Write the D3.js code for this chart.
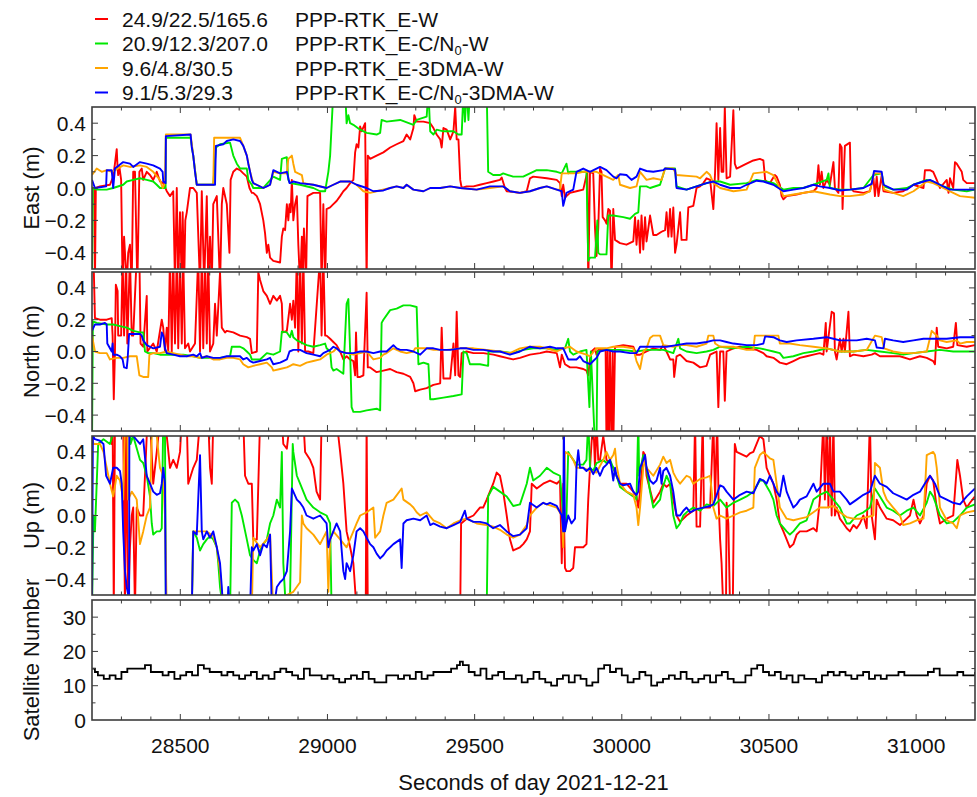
<!DOCTYPE html>
<html><head><meta charset="utf-8">
<script src="https://cdn.jsdelivr.net/npm/d3@7"></script>
<style>
html,body{margin:0;padding:0;background:#fff;}
svg{display:block;font-family:"Liberation Sans",Arial,Helvetica,sans-serif;}
</style></head>
<body><svg id="chart" width="977" height="797"></svg>
<script>
// ---- time axis ----
const timeDomain = [28200, 31200];
const xTicks = [28500, 29000, 29500, 30000, 30500, 31000];
const enuTicks = [-0.4, -0.2, 0, 0.2, 0.4];
const satTicks = [0, 10, 20, 30];

// ---- legend ----
const seriesNames = ["PPP-RTK_E-W", "PPP-RTK_E-C/N0-W", "PPP-RTK_E-3DMA-W", "PPP-RTK_E-C/N0-3DMA-W"];
const seriesStats = ["24.9/22.5/165.6", "20.9/12.3/207.0", "9.6/4.8/30.5", "9.1/5.3/29.3"];
const seriesColors = ["#ff0000", "#00e800", "#ffa500", "#0000ff"];

// ---- East error (m): [seconds of day, value] ----
const eastRed = [[28200,0.0],[28208,0.0],[28210,-0.6],[28213,0.0],[28227,0.01],[28261,0.02],[28272,0.07],[28278,0.15],[28284,0.24],[28287,0.12],[28289,0.08],[28293,0.13],[28299,0.05],[28304,-0.6],[28309,-0.3],[28318,-0.6],[28323,-0.4],[28329,-0.35],[28335,-0.6],[28340,0.1],[28346,0.1],[28354,-0.6],[28361,0.1],[28369,0.12],[28374,0.05],[28386,0.1],[28397,0.08],[28408,0.05],[28420,0.1],[28431,0.04],[28442,0.03],[28454,-0.02],[28465,-0.05],[28476,-0.02],[28482,-0.6],[28488,0.0],[28493,-0.6],[28499,-0.15],[28505,-0.6],[28508,-0.15],[28513,-0.6],[28517,-0.2],[28522,-0.15],[28533,0.0],[28544,0.0],[28556,-0.03],[28567,-0.6],[28573,-0.02],[28581,-0.6],[28590,-0.05],[28595,-0.6],[28601,-0.3],[28607,-0.6],[28612,-0.1],[28624,-0.05],[28635,-0.6],[28641,-0.1],[28646,0.0],[28658,-0.1],[28667,-0.4],[28671,0.05],[28680,0.1],[28692,0.12],[28703,0.11],[28714,0.09],[28726,0.07],[28735,0.0],[28743,-0.03],[28748,-0.03],[28760,-0.05],[28771,-0.1],[28782,-0.2],[28788,-0.28],[28794,-0.4],[28799,-0.35],[28805,-0.43],[28816,-0.45],[28839,-0.46],[28845,-0.3],[28850,-0.25],[28856,-0.26],[28862,-0.1],[28867,-0.2],[28871,-0.1],[28875,-0.15],[28879,0.05],[28884,-0.2],[28890,-0.1],[28896,-0.05],[28901,-0.35],[28907,-0.6],[28913,-0.3],[28916,-0.6],[28920,-0.25],[28924,-0.4],[28927,-0.6],[28932,-0.05],[28952,-0.03],[28975,-0.03],[28980,-0.6],[28986,-0.1],[28992,-0.6],[28997,-0.13],[29009,-0.12],[29020,-0.1],[29031,-0.08],[29043,-0.05],[29054,-0.02],[29065,0.0],[29077,0.03],[29088,0.05],[29094,0.22],[29099,0.27],[29105,0.25],[29111,0.38],[29116,0.35],[29128,0.4],[29133,-0.6],[29137,0.2],[29145,0.18],[29167,0.2],[29190,0.22],[29213,0.25],[29235,0.27],[29258,0.29],[29269,0.33],[29281,0.3],[29292,0.37],[29295,0.45],[29303,0.41],[29326,0.41],[29349,0.4],[29360,0.37],[29371,0.33],[29383,0.3],[29388,0.25],[29394,0.37],[29405,0.36],[29417,0.3],[29428,0.35],[29434,0.5],[29439,0.3],[29445,0.3],[29451,0.05],[29456,0.0],[29473,0.01],[29496,0.01],[29518,0.02],[29541,0.03],[29564,0.04],[29586,0.05],[29592,0.065],[29603,0.0],[29609,-0.02],[29654,-0.03],[29677,-0.02],[29688,0.06],[29699,0.07],[29745,0.06],[29779,0.05],[29790,0.03],[29796,-0.05],[29801,0.02],[29807,-0.06],[29812,-0.05],[29824,-0.03],[29846,-0.02],[29869,-0.01],[29883,0.1],[29886,-0.6],[29892,0.1],[29903,0.09],[29909,-0.25],[29914,-0.42],[29920,-0.25],[29926,0.12],[29931,0.1],[29935,-0.18],[29943,-0.2],[29948,-0.22],[29954,-0.13],[29960,-0.14],[29965,-0.6],[29971,-0.13],[29977,-0.32],[29994,-0.34],[30016,-0.35],[30039,-0.33],[30045,-0.18],[30050,-0.35],[30056,-0.2],[30062,-0.4],[30067,-0.17],[30073,-0.38],[30079,-0.18],[30084,-0.33],[30096,-0.17],[30107,-0.29],[30118,-0.29],[30135,-0.27],[30147,-0.26],[30152,-0.15],[30158,-0.3],[30164,-0.13],[30169,-0.3],[30175,-0.12],[30181,-0.4],[30186,-0.35],[30198,-0.15],[30203,-0.32],[30220,-0.32],[30226,-0.12],[30243,-0.11],[30254,0.0],[30266,0.01],[30277,0.03],[30288,0.06],[30300,0.05],[30311,-0.13],[30317,0.1],[30322,0.4],[30328,0.05],[30334,0.37],[30339,0.1],[30345,0.1],[30350,0.5],[30356,0.06],[30368,0.07],[30379,0.48],[30384,0.15],[30390,0.12],[30402,0.13],[30424,0.15],[30447,0.17],[30469,0.18],[30481,0.17],[30487,0.05],[30492,0.04],[30503,0.03],[30520,0.08],[30526,0.07],[30537,0.02],[30543,-0.05],[30549,-0.07],[30560,-0.05],[30594,-0.04],[30617,-0.03],[30651,-0.02],[30662,0.0],[30668,0.14],[30673,0.02],[30679,0.1],[30685,0.0],[30696,0.05],[30707,0.02],[30719,0.16],[30724,0.0],[30736,-0.03],[30741,0.27],[30747,0.25],[30750,-0.13],[30758,0.26],[30775,0.28],[30778,0.0],[30787,-0.02],[30821,-0.03],[30843,-0.02],[30849,0.03],[30855,0.06],[30860,-0.05],[30866,0.07],[30872,-0.05],[30883,0.08],[30889,-0.02],[30922,-0.03],[30956,-0.02],[30991,0.02],[31025,0.0],[31030,0.11],[31047,0.11],[31058,0.1],[31070,0.05],[31081,0.0],[31104,0.05],[31110,-0.03],[31115,0.06],[31126,0.0],[31132,0.16],[31138,0.15],[31155,0.1],[31160,0.05],[31172,0.03],[31200,0.03]];
const eastGreen = [[28200,-0.6],[28203,0.0],[28216,-0.01],[28250,-0.01],[28272,0.0],[28306,0.02],[28318,0.04],[28340,0.05],[28363,0.06],[28386,0.05],[28408,0.04],[28420,0.02],[28431,0.0],[28450,0.0],[28451,0.31],[28535,0.31],[28544,0.2],[28556,0.02],[28612,0.02],[28621,0.25],[28635,0.27],[28669,0.28],[28680,0.2],[28692,0.15],[28703,0.12],[28726,0.12],[28731,0.05],[28743,0.02],[28748,0.0],[28782,0.0],[28816,0.07],[28839,0.05],[28845,0.18],[28862,0.19],[28867,0.05],[28873,0.03],[28907,0.02],[28952,0.0],[28975,-0.02],[28992,-0.02],[29003,0.1],[29009,0.2],[29020,0.6],[29060,0.6],[29065,0.4],[29071,0.45],[29077,0.4],[29088,0.39],[29111,0.36],[29133,0.34],[29167,0.33],[29179,0.34],[29184,0.42],[29201,0.41],[29247,0.42],[29292,0.39],[29303,0.42],[29337,0.44],[29343,0.6],[29349,0.35],[29360,0.33],[29371,0.36],[29394,0.35],[29428,0.35],[29445,0.33],[29456,0.33],[29462,0.6],[29467,0.41],[29473,0.6],[29479,0.42],[29484,0.6],[29541,0.6],[29546,0.1],[29563,0.08],[29586,0.08],[29597,0.09],[29631,0.07],[29665,0.07],[29688,0.09],[29711,0.11],[29745,0.11],[29779,0.1],[29796,0.09],[29812,0.15],[29818,0.09],[29824,0.1],[29846,0.1],[29880,0.1],[29886,-0.45],[29892,-0.43],[29909,-0.43],[29917,-0.2],[29920,-0.4],[29926,-0.41],[29948,-0.41],[29954,-0.17],[29971,-0.17],[30005,-0.18],[30028,-0.19],[30045,-0.16],[30056,-0.15],[30062,0.01],[30084,0.01],[30096,0.0],[30130,0.02],[30147,0.12],[30181,0.12],[30186,0.01],[30220,-0.01],[30254,0.01],[30288,0.03],[30311,0.04],[30334,0.04],[30368,0.02],[30424,0.03],[30458,0.05],[30492,0.04],[30515,0.03],[30549,-0.01],[30583,0.0],[30617,0.0],[30651,0.02],[30696,0.05],[30702,0.09],[30707,0.0],[30741,-0.01],[30775,-0.01],[30821,0.0],[30855,0.08],[30883,0.09],[30891,0.01],[30922,-0.01],[30968,0.0],[30991,0.02],[31036,0.05],[31058,0.04],[31092,0.01],[31126,-0.01],[31172,-0.02],[31200,-0.01]];
const eastOrange = [[28200,0.08],[28216,0.12],[28233,0.1],[28250,0.11],[28267,0.1],[28278,0.11],[28306,0.14],[28329,0.13],[28363,0.14],[28386,0.13],[28408,0.1],[28431,0.05],[28440,0.0],[28448,0.03],[28451,0.33],[28535,0.33],[28544,0.2],[28556,0.02],[28612,0.02],[28615,0.31],[28703,0.31],[28714,0.26],[28726,0.2],[28737,0.1],[28748,0.03],[28782,0.0],[28805,0.02],[28816,0.1],[28839,0.09],[28862,0.09],[28867,0.18],[28879,0.2],[28884,0.15],[28890,0.1],[28913,0.08],[28918,0.03],[28952,0.02],[28997,0.0],[29020,0.02],[29043,0.04],[29077,0.04],[29099,0.02],[29122,-0.02],[29145,-0.03],[29167,-0.02],[29213,0.0],[29235,0.01],[29258,0.0],[29269,0.02],[29292,-0.01],[29326,-0.02],[29349,0.0],[29383,0.0],[29417,0.01],[29451,0.0],[29507,-0.01],[29552,0.0],[29597,0.01],[29620,-0.02],[29654,-0.03],[29688,-0.02],[29722,0.0],[29745,0.01],[29779,-0.01],[29790,-0.01],[29796,0.09],[29846,0.09],[29869,0.1],[29914,0.1],[29971,0.05],[29988,0.08],[29994,0.02],[30028,0.0],[30050,0.01],[30062,0.1],[30084,0.05],[30107,0.06],[30135,0.05],[30147,0.12],[30175,0.12],[30186,0.08],[30254,0.07],[30266,0.06],[30288,0.1],[30300,0.08],[30311,0.03],[30334,0.0],[30379,-0.02],[30424,-0.01],[30447,0.09],[30492,0.1],[30515,0.08],[30537,0.0],[30549,-0.05],[30583,-0.04],[30651,-0.02],[30707,-0.04],[30741,-0.05],[30775,-0.05],[30821,-0.04],[30843,-0.02],[30857,0.09],[30883,0.09],[30891,-0.01],[30922,-0.03],[30956,-0.05],[30991,-0.02],[31036,0.04],[31058,0.03],[31092,0.0],[31126,-0.03],[31149,-0.05],[31200,-0.06]];
const eastBlue = [[28200,0.05],[28210,0.0],[28248,0.01],[28250,0.11],[28267,0.11],[28272,0.0],[28278,0.12],[28306,0.16],[28329,0.15],[28340,0.13],[28363,0.16],[28386,0.15],[28408,0.14],[28431,0.12],[28440,0.1],[28442,0.04],[28450,0.03],[28451,0.32],[28535,0.33],[28539,0.25],[28544,0.2],[28550,0.1],[28556,0.02],[28618,0.02],[28621,0.26],[28646,0.27],[28658,0.29],[28680,0.3],[28703,0.29],[28714,0.26],[28726,0.2],[28731,0.15],[28737,0.1],[28743,0.05],[28748,0.03],[28782,0.0],[28794,0.01],[28805,0.02],[28816,0.11],[28839,0.09],[28862,0.1],[28871,0.03],[28884,0.04],[28907,0.03],[28952,0.02],[28997,0.0],[29020,0.02],[29043,0.04],[29077,0.04],[29099,0.02],[29133,0.0],[29156,-0.02],[29190,-0.015],[29213,0.0],[29235,0.01],[29258,0.0],[29269,0.02],[29292,-0.01],[29326,-0.02],[29349,0.0],[29383,0.0],[29417,0.01],[29451,0.0],[29507,-0.01],[29552,0.01],[29597,0.01],[29620,-0.02],[29654,-0.03],[29688,-0.02],[29722,0.0],[29745,0.01],[29779,-0.01],[29796,-0.02],[29801,-0.11],[29812,-0.03],[29835,-0.01],[29846,0.1],[29869,0.12],[29892,0.1],[29926,0.13],[29948,0.11],[29971,0.07],[29982,0.06],[29994,0.085],[30016,0.08],[30033,0.05],[30050,0.07],[30062,0.12],[30084,0.105],[30107,0.1],[30141,0.11],[30147,0.12],[30181,0.115],[30186,0.0],[30220,-0.01],[30254,0.01],[30288,0.03],[30311,0.04],[30334,0.02],[30368,0.0],[30402,0.0],[30424,0.02],[30458,0.045],[30481,0.04],[30515,0.02],[30549,-0.02],[30583,-0.01],[30617,0.0],[30651,0.02],[30673,0.01],[30707,0.0],[30741,-0.015],[30775,-0.01],[30821,0.0],[30849,0.025],[30857,0.105],[30883,0.1],[30889,0.02],[30923,-0.01],[30968,-0.01],[30991,0.02],[31025,0.04],[31047,0.05],[31081,0.02],[31115,-0.01],[31149,-0.01],[31200,-0.01]];

// ---- North error (m) ----
const northRed = [[28200,0.6],[28205,0.6],[28210,0.21],[28227,0.2],[28250,0.2],[28267,0.21],[28270,0.1],[28274,-0.3],[28278,0.0],[28281,0.42],[28287,0.38],[28289,0.1],[28299,0.1],[28304,0.6],[28309,0.1],[28316,0.6],[28320,0.05],[28329,0.6],[28335,0.1],[28340,0.1],[28352,0.6],[28361,0.6],[28365,0.05],[28374,0.03],[28386,0.35],[28388,0.0],[28408,0.05],[28420,0.0],[28437,0.2],[28442,0.15],[28448,0.0],[28454,0.15],[28459,0.0],[28465,0.6],[28471,0.0],[28476,0.6],[28482,0.05],[28488,0.6],[28493,0.02],[28499,0.6],[28505,0.05],[28510,0.6],[28516,0.02],[28527,0.05],[28533,0.0],[28550,0.05],[28561,0.6],[28567,0.0],[28573,0.6],[28578,0.02],[28584,0.6],[28590,0.05],[28595,0.6],[28601,0.0],[28612,0.05],[28618,0.3],[28624,0.1],[28635,0.5],[28641,0.15],[28652,0.12],[28658,0.13],[28680,0.12],[28703,0.1],[28726,0.09],[28737,0.08],[28743,-0.01],[28760,0.0],[28765,0.5],[28771,0.45],[28782,0.38],[28794,0.35],[28805,0.3],[28816,0.35],[28828,0.32],[28839,0.35],[28845,0.3],[28848,0.12],[28862,0.13],[28873,0.3],[28879,0.2],[28884,0.32],[28890,0.15],[28896,0.6],[28901,0.0],[28907,0.6],[28913,0.05],[28918,0.6],[28924,0.0],[28935,0.0],[28952,-0.01],[28975,0.6],[28980,0.1],[28986,0.6],[28992,0.1],[28997,0.1],[29009,0.08],[29020,0.06],[29031,0.04],[29043,0.0],[29054,-0.05],[29065,-0.03],[29077,-0.05],[29088,-0.06],[29094,-0.15],[29097,0.12],[29102,-0.16],[29111,-0.16],[29122,-0.15],[29133,0.37],[29137,-0.1],[29145,-0.1],[29167,-0.13],[29190,-0.12],[29213,-0.11],[29235,-0.13],[29258,-0.14],[29281,-0.16],[29292,-0.2],[29298,-0.25],[29315,-0.24],[29337,-0.23],[29360,-0.21],[29383,-0.2],[29388,0.15],[29394,-0.17],[29417,-0.17],[29428,0.05],[29434,-0.15],[29439,0.25],[29445,-0.15],[29451,-0.16],[29456,-0.01],[29473,0.0],[29496,-0.01],[29530,-0.01],[29564,-0.02],[29586,-0.03],[29609,-0.04],[29631,-0.05],[29654,-0.04],[29688,-0.02],[29722,-0.01],[29745,0.0],[29779,-0.01],[29790,-0.1],[29796,-0.02],[29807,-0.08],[29824,-0.1],[29846,-0.1],[29869,-0.11],[29880,-0.12],[29886,-0.15],[29892,-0.05],[29897,0.0],[29909,0.02],[29914,-0.02],[29920,0.01],[29945,0.01],[29948,-0.6],[29952,0.0],[29956,-0.6],[29960,0.0],[29965,-0.6],[29969,0.0],[29971,-0.6],[29977,0.03],[30005,0.04],[30039,0.03],[30050,-0.02],[30062,-0.02],[30084,0.0],[30107,0.02],[30130,0.01],[30141,0.04],[30152,0.0],[30164,-0.05],[30175,-0.05],[30178,-0.16],[30186,-0.03],[30198,-0.02],[30220,-0.06],[30243,-0.07],[30266,-0.1],[30288,-0.09],[30300,-0.02],[30311,-0.01],[30322,0.0],[30328,-0.35],[30334,0.0],[30345,0.0],[30350,-0.31],[30356,0.0],[30379,0.02],[30402,0.03],[30424,0.02],[30458,0.01],[30481,-0.01],[30492,-0.03],[30515,-0.04],[30537,-0.07],[30560,-0.08],[30583,-0.06],[30605,-0.04],[30628,-0.03],[30651,-0.02],[30673,-0.01],[30685,-0.02],[30693,0.18],[30696,0.0],[30713,0.25],[30721,0.24],[30724,0.0],[30730,-0.05],[30741,0.08],[30747,0.0],[30753,0.08],[30758,0.0],[30770,0.25],[30775,-0.03],[30787,-0.02],[30821,-0.03],[30849,-0.02],[30860,-0.01],[30877,-0.03],[30911,-0.03],[30945,-0.03],[30979,-0.05],[31013,-0.03],[31036,-0.04],[31058,-0.06],[31064,-0.08],[31070,0.15],[31075,0.03],[31104,0.02],[31126,0.03],[31135,0.18],[31140,0.04],[31172,0.03],[31200,0.04]];
const northGreen = [[28200,-0.6],[28203,0.19],[28216,0.18],[28250,0.17],[28272,0.17],[28295,0.16],[28318,0.15],[28340,0.13],[28363,0.12],[28374,0.12],[28380,0.0],[28391,-0.01],[28408,-0.01],[28431,-0.02],[28476,-0.02],[28510,-0.02],[28544,-0.03],[28567,-0.04],[28612,-0.04],[28635,-0.04],[28669,-0.03],[28675,0.03],[28703,0.03],[28714,0.02],[28726,0.0],[28737,-0.02],[28743,-0.05],[28771,-0.05],[28794,-0.01],[28816,-0.02],[28839,0.0],[28845,0.125],[28862,0.12],[28873,0.09],[28879,0.13],[28884,0.09],[28896,0.07],[28907,0.06],[28929,0.04],[28952,0.03],[28975,0.04],[28992,0.05],[28997,0.02],[29009,0.0],[29014,-0.1],[29020,-0.12],[29031,-0.11],[29054,-0.14],[29065,0.3],[29071,0.33],[29077,0.0],[29082,-0.35],[29088,-0.38],[29111,-0.38],[29133,-0.37],[29167,-0.36],[29179,-0.37],[29184,0.18],[29190,0.2],[29213,0.26],[29235,0.27],[29258,0.29],[29281,0.29],[29303,0.28],[29309,-0.08],[29326,-0.07],[29343,-0.08],[29349,-0.3],[29360,-0.3],[29394,-0.29],[29428,-0.28],[29456,-0.27],[29462,0.0],[29473,-0.01],[29484,-0.08],[29518,-0.08],[29546,-0.09],[29547,0.0],[29586,0.0],[29631,-0.01],[29665,0.01],[29699,0.02],[29745,0.02],[29779,0.01],[29807,0.02],[29818,0.08],[29824,0.0],[29835,-0.02],[29858,0.0],[29880,0.01],[29890,-0.35],[29895,0.0],[29909,-0.6],[29914,-0.6],[29917,0.0],[29948,0.01],[29994,0.01],[30050,0.0],[30084,0.01],[30141,0.01],[30175,-0.01],[30192,0.08],[30198,0.02],[30220,0.0],[30254,-0.01],[30288,0.0],[30311,0.01],[30334,0.03],[30379,0.02],[30424,0.03],[30469,0.02],[30492,0.01],[30515,0.0],[30537,-0.01],[30549,-0.04],[30583,-0.03],[30617,-0.01],[30651,0.0],[30696,0.02],[30741,0.0],[30787,0.0],[30832,0.01],[30877,0.0],[30922,-0.01],[30956,-0.02],[30991,-0.01],[31036,0.0],[31081,0.01],[31126,0.0],[31200,0.0]];
const northOrange = [[28200,0.1],[28210,0.0],[28227,-0.01],[28250,-0.01],[28261,-0.05],[28284,-0.04],[28306,-0.04],[28329,-0.03],[28352,-0.03],[28361,-0.15],[28374,-0.16],[28391,-0.16],[28395,-0.02],[28408,-0.01],[28431,-0.01],[28454,0.0],[28476,-0.01],[28499,-0.02],[28522,-0.03],[28544,-0.03],[28567,-0.04],[28590,-0.03],[28612,-0.05],[28635,-0.05],[28658,-0.04],[28680,-0.04],[28703,-0.05],[28714,-0.08],[28731,-0.1],[28748,-0.09],[28771,-0.08],[28794,-0.07],[28811,-0.1],[28816,-0.12],[28839,-0.11],[28862,-0.1],[28873,-0.09],[28884,-0.08],[28907,-0.09],[28929,-0.07],[28952,-0.06],[28975,-0.05],[28997,-0.02],[29020,0.0],[29031,0.02],[29043,0.0],[29065,-0.01],[29088,-0.02],[29111,-0.01],[29133,0.0],[29156,-0.05],[29179,-0.04],[29190,-0.02],[29201,-0.01],[29224,0.02],[29247,0.0],[29269,-0.01],[29292,0.0],[29298,0.02],[29337,0.02],[29360,0.01],[29405,0.01],[29451,0.02],[29496,0.02],[29541,0.01],[29586,0.0],[29620,-0.01],[29654,0.02],[29688,0.03],[29722,0.03],[29745,0.02],[29779,0.0],[29801,0.02],[29824,0.03],[29846,0.0],[29880,-0.02],[29892,-0.03],[29914,0.02],[29948,0.02],[29971,0.03],[30005,0.03],[30039,0.02],[30050,-0.06],[30062,-0.11],[30073,0.0],[30084,0.02],[30096,0.085],[30107,0.1],[30130,0.1],[30141,0.04],[30175,0.03],[30198,0.04],[30220,0.04],[30254,0.03],[30288,0.05],[30294,0.1],[30311,0.1],[30317,0.05],[30334,0.03],[30379,0.03],[30424,0.01],[30447,0.01],[30452,0.1],[30492,0.1],[30532,0.1],[30537,0.05],[30571,0.05],[30605,0.04],[30651,0.03],[30696,0.02],[30741,0.0],[30787,0.0],[30832,0.01],[30860,0.1],[30883,0.09],[30891,0.02],[30922,0.0],[30956,-0.01],[30991,-0.01],[31036,0.0],[31053,0.13],[31070,0.1],[31081,0.07],[31104,0.06],[31138,0.07],[31149,0.05],[31172,0.06],[31200,0.06]];
const northBlue = [[28200,0.13],[28210,0.17],[28227,0.17],[28244,0.18],[28250,0.17],[28252,0.05],[28261,0.02],[28267,0.0],[28270,0.05],[28272,-0.02],[28284,-0.02],[28295,-0.03],[28304,-0.05],[28309,-0.1],[28318,-0.105],[28321,-0.05],[28326,0.11],[28340,0.11],[28363,0.11],[28369,0.1],[28374,0.07],[28386,0.04],[28397,0.03],[28408,0.02],[28431,0.03],[28437,0.12],[28442,0.1],[28448,0.02],[28454,-0.01],[28476,-0.02],[28499,-0.03],[28522,-0.03],[28544,-0.02],[28556,-0.03],[28567,-0.01],[28573,-0.04],[28590,-0.03],[28612,-0.04],[28635,-0.04],[28658,-0.03],[28680,-0.03],[28703,-0.03],[28714,-0.05],[28726,-0.04],[28737,-0.06],[28748,-0.07],[28771,-0.06],[28794,-0.05],[28805,-0.04],[28816,-0.08],[28839,-0.07],[28850,-0.06],[28862,-0.05],[28871,0.0],[28884,0.01],[28907,0.01],[28929,-0.01],[28952,-0.02],[28975,-0.03],[28986,-0.01],[29009,0.01],[29020,0.03],[29031,0.02],[29043,0.0],[29065,-0.01],[29088,-0.01],[29111,0.0],[29133,0.0],[29156,-0.01],[29179,0.0],[29201,0.0],[29224,0.04],[29235,0.02],[29247,0.01],[29269,0.01],[29292,0.0],[29315,-0.02],[29337,0.02],[29360,0.02],[29383,0.01],[29417,0.01],[29451,0.02],[29473,0.02],[29496,0.01],[29530,0.01],[29564,0.0],[29586,0.0],[29620,-0.02],[29654,0.0],[29688,0.03],[29722,0.02],[29756,0.03],[29779,0.02],[29801,0.02],[29818,-0.05],[29846,-0.05],[29858,-0.03],[29869,-0.06],[29880,-0.07],[29892,-0.08],[29903,-0.06],[29914,-0.04],[29926,0.0],[29948,0.01],[29971,0.0],[29994,0.0],[30028,-0.01],[30050,-0.01],[30062,0.03],[30084,0.03],[30118,0.03],[30152,0.03],[30186,0.04],[30220,0.05],[30254,0.05],[30288,0.06],[30311,0.07],[30334,0.07],[30356,0.06],[30379,0.05],[30424,0.04],[30458,0.04],[30481,0.05],[30487,0.095],[30515,0.09],[30537,0.07],[30560,0.06],[30594,0.07],[30651,0.08],[30696,0.09],[30719,0.08],[30741,0.07],[30764,0.07],[30798,0.07],[30832,0.08],[30860,0.07],[30866,0.025],[30889,0.02],[30894,0.08],[30922,0.07],[30956,0.06],[30991,0.07],[31025,0.08],[31058,0.08],[31104,0.08],[31149,0.09],[31200,0.09]];

// ---- Up error (m) ----
const upRed = [[28200,0.6],[28261,0.6],[28267,0.45],[28270,0.6],[28274,-0.6],[28278,0.6],[28306,0.6],[28312,-0.6],[28316,0.6],[28323,-0.6],[28329,-0.2],[28335,0.0],[28340,0.05],[28346,-0.6],[28352,0.05],[28363,0.0],[28374,0.0],[28386,0.5],[28397,0.6],[28408,0.2],[28420,0.4],[28431,0.6],[28454,0.5],[28465,0.3],[28476,0.35],[28488,0.3],[28499,0.4],[28505,0.6],[28522,0.6],[28527,0.2],[28544,0.3],[28556,0.35],[28567,0.6],[28595,0.6],[28601,0.3],[28607,0.2],[28612,0.6],[28714,0.6],[28720,0.25],[28731,0.2],[28743,0.2],[28748,-0.15],[28760,-0.15],[28771,0.6],[28845,0.6],[28850,0.45],[28862,0.42],[28873,0.6],[28918,0.6],[28924,0.4],[28941,0.35],[28952,0.3],[28963,0.15],[28975,0.1],[28980,0.6],[29031,0.6],[29043,0.4],[29054,0.2],[29065,-0.1],[29077,-0.2],[29088,-0.3],[29099,-0.6],[29130,-0.6],[29133,0.6],[29137,-0.6],[29451,-0.6],[29454,-0.05],[29473,-0.02],[29496,0.0],[29518,0.05],[29529,0.05],[29541,0.1],[29563,0.2],[29575,0.27],[29586,0.25],[29597,0.15],[29609,0.0],[29620,-0.15],[29631,-0.22],[29654,-0.2],[29665,-0.18],[29677,-0.15],[29688,-0.1],[29694,0.2],[29711,0.17],[29733,0.2],[29756,0.22],[29779,0.2],[29790,0.22],[29796,-0.3],[29801,0.2],[29807,-0.33],[29812,-0.35],[29824,-0.35],[29835,-0.33],[29841,-0.2],[29846,-0.2],[29869,-0.2],[29880,-0.18],[29886,0.1],[29892,0.3],[29897,0.45],[29903,0.6],[29909,0.3],[29914,0.6],[29920,0.35],[29926,0.35],[29937,0.5],[29948,0.35],[29960,0.33],[29971,0.3],[29982,0.25],[29994,0.2],[30016,0.2],[30039,0.15],[30050,0.12],[30056,0.05],[30062,0.15],[30073,0.4],[30079,0.38],[30084,0.25],[30107,0.08],[30130,0.15],[30141,0.2],[30152,0.18],[30164,0.2],[30175,0.1],[30186,0.0],[30198,-0.04],[30220,0.0],[30243,0.03],[30249,0.6],[30254,-0.07],[30266,-0.07],[30275,0.6],[30279,0.05],[30300,0.05],[30311,0.6],[30317,0.1],[30324,0.6],[30329,0.08],[30334,-0.15],[30339,-0.3],[30345,-0.6],[30354,-0.6],[30356,0.08],[30362,-0.05],[30368,-0.6],[30377,-0.6],[30381,0.12],[30384,0.45],[30390,0.4],[30413,0.38],[30424,0.37],[30435,0.39],[30447,0.4],[30458,0.45],[30469,0.5],[30481,0.48],[30492,0.3],[30503,0.25],[30515,0.2],[30526,0.1],[30537,-0.05],[30549,-0.1],[30560,-0.15],[30571,-0.2],[30583,-0.18],[30594,-0.12],[30605,-0.1],[30628,-0.1],[30651,-0.08],[30662,-0.1],[30673,0.1],[30685,0.6],[30690,0.1],[30696,0.6],[30702,0.05],[30707,0.6],[30713,0.0],[30719,0.6],[30724,0.0],[30730,0.05],[30741,-0.02],[30753,-0.05],[30764,-0.08],[30775,-0.1],[30787,-0.06],[30798,-0.08],[30809,-0.05],[30821,0.0],[30832,-0.08],[30843,0.6],[30849,0.0],[30860,-0.15],[30866,0.1],[30877,0.05],[30900,-0.02],[30922,-0.03],[30945,-0.06],[30968,-0.02],[30979,0.0],[30991,0.1],[31002,0.0],[31013,-0.05],[31025,0.0],[31036,0.2],[31047,0.25],[31058,0.22],[31070,0.05],[31081,-0.05],[31104,-0.02],[31126,0.0],[31140,0.35],[31149,0.25],[31160,0.1],[31172,0.05],[31183,0.08],[31200,0.12]];
const upGreen = [[28200,-0.6],[28205,0.0],[28210,-0.1],[28216,0.2],[28221,0.45],[28239,0.48],[28261,0.45],[28284,0.6],[28329,0.6],[28331,0.45],[28340,0.5],[28363,0.35],[28374,0.33],[28386,0.25],[28397,0.12],[28403,-0.05],[28408,-0.12],[28420,-0.1],[28431,-0.1],[28437,-0.08],[28442,0.6],[28448,0.5],[28451,-0.6],[28539,-0.6],[28544,-0.1],[28556,-0.14],[28567,-0.22],[28578,-0.18],[28590,-0.15],[28601,-0.13],[28612,-0.15],[28624,-0.2],[28629,-0.3],[28635,-0.45],[28646,-0.6],[28669,-0.6],[28675,0.08],[28686,0.1],[28697,0.08],[28709,0.0],[28726,-0.15],[28737,-0.25],[28748,-0.28],[28760,-0.3],[28771,-0.22],[28782,-0.18],[28794,-0.15],[28805,-0.05],[28816,0.0],[28828,0.1],[28839,0.05],[28845,0.4],[28850,-0.3],[28856,-0.5],[28873,-0.5],[28882,0.45],[28884,0.4],[28896,0.25],[28907,0.2],[28918,0.15],[28929,0.1],[28952,0.05],[28975,0.02],[28997,0.0],[29009,-0.05],[29014,-0.6],[29541,-0.6],[29546,0.12],[29563,0.18],[29586,0.15],[29609,0.12],[29631,0.06],[29654,0.07],[29677,0.2],[29688,0.3],[29699,0.22],[29722,0.25],[29745,0.3],[29767,0.27],[29790,0.25],[29801,0.0],[29807,-0.1],[29812,0.0],[29818,0.4],[29824,0.38],[29846,0.32],[29869,0.32],[29880,0.35],[29886,0.6],[29892,0.3],[29903,0.28],[29914,0.33],[29937,0.35],[29948,0.33],[29960,0.35],[29971,0.3],[29982,0.25],[29994,0.18],[30016,0.15],[30039,0.12],[30050,0.1],[30056,0.6],[30059,0.25],[30073,0.38],[30084,0.3],[30096,0.15],[30107,0.05],[30130,0.1],[30135,0.15],[30152,0.25],[30164,0.2],[30175,0.0],[30186,-0.08],[30198,-0.05],[30209,0.0],[30220,0.02],[30243,0.05],[30266,0.03],[30288,0.07],[30311,0.06],[30334,0.1],[30356,0.05],[30379,0.08],[30402,0.1],[30424,0.12],[30447,0.15],[30469,0.22],[30481,0.22],[30503,0.15],[30515,0.1],[30526,0.0],[30537,-0.05],[30560,-0.1],[30571,-0.12],[30583,-0.1],[30605,-0.05],[30628,-0.03],[30651,0.1],[30673,0.13],[30696,0.15],[30719,0.1],[30741,0.05],[30764,-0.05],[30775,-0.05],[30798,0.0],[30821,0.02],[30843,0.05],[30860,0.17],[30877,0.12],[30900,0.05],[30922,0.03],[30945,0.0],[30968,0.03],[30991,0.05],[31013,0.0],[31036,0.08],[31047,0.15],[31058,0.12],[31081,0.0],[31104,-0.05],[31126,-0.04],[31149,0.0],[31172,0.05],[31200,0.07]];
const upOrange = [[28200,0.5],[28205,0.45],[28227,0.45],[28239,0.4],[28250,0.3],[28261,0.2],[28272,0.12],[28284,0.25],[28295,0.22],[28306,0.1],[28312,0.6],[28320,0.6],[28323,0.1],[28335,0.15],[28346,0.12],[28352,0.1],[28363,-0.18],[28374,-0.1],[28386,0.0],[28397,0.05],[28403,0.5],[28420,0.5],[28431,0.3],[28442,0.25],[28448,0.0],[28454,-0.6],[28539,-0.6],[28544,-0.1],[28567,-0.1],[28590,-0.1],[28612,-0.13],[28624,-0.2],[28635,-0.35],[28646,-0.6],[28743,-0.6],[28748,-0.14],[28771,-0.2],[28794,-0.15],[28805,-0.12],[28816,-0.6],[28839,-0.55],[28862,-0.5],[28884,-0.48],[28907,-0.42],[28913,0.0],[28918,-0.05],[28929,-0.08],[28952,-0.12],[28975,-0.18],[28997,-0.1],[29003,-0.48],[29009,-0.15],[29020,-0.1],[29043,-0.15],[29065,-0.2],[29088,-0.1],[29099,-0.05],[29111,0.0],[29133,0.02],[29156,0.05],[29162,-0.14],[29179,-0.1],[29190,0.0],[29201,0.08],[29224,0.1],[29252,0.17],[29258,0.1],[29281,0.07],[29292,0.05],[29303,0.02],[29315,0.0],[29337,0.02],[29360,-0.03],[29383,-0.05],[29405,-0.08],[29428,-0.05],[29451,-0.03],[29473,-0.02],[29496,-0.04],[29507,-0.05],[29541,-0.06],[29563,-0.07],[29586,-0.09],[29609,-0.12],[29631,-0.14],[29654,-0.12],[29677,-0.06],[29688,0.0],[29711,0.05],[29733,0.08],[29745,0.07],[29779,0.05],[29796,0.0],[29801,-0.2],[29807,0.4],[29824,0.38],[29835,0.35],[29846,0.3],[29869,0.3],[29892,0.28],[29914,0.27],[29937,0.35],[29948,0.4],[29960,0.35],[29971,0.38],[29977,0.42],[29982,0.32],[29994,0.2],[30016,0.15],[30039,0.13],[30050,0.05],[30056,-0.06],[30062,0.05],[30073,0.3],[30079,0.35],[30084,0.3],[30107,0.25],[30130,0.32],[30141,0.37],[30152,0.33],[30164,0.35],[30175,0.27],[30186,0.23],[30198,0.2],[30220,0.25],[30232,0.24],[30243,0.2],[30266,0.23],[30288,0.24],[30300,0.25],[30311,0.05],[30322,-0.02],[30334,0.0],[30356,-0.02],[30379,0.0],[30402,0.02],[30424,0.03],[30447,0.05],[30452,0.3],[30469,0.38],[30481,0.4],[30492,0.38],[30503,0.36],[30515,0.35],[30526,0.2],[30537,0.05],[30560,-0.02],[30583,-0.03],[30605,-0.02],[30628,-0.01],[30651,0.02],[30673,0.05],[30696,0.05],[30719,0.06],[30741,0.02],[30764,-0.01],[30787,-0.02],[30809,-0.02],[30832,-0.01],[30855,0.0],[30860,0.33],[30877,0.3],[30889,0.15],[30900,0.1],[30922,0.05],[30945,0.0],[30956,-0.06],[30979,-0.05],[31002,-0.03],[31025,-0.02],[31036,0.38],[31058,0.4],[31064,0.38],[31070,0.3],[31081,0.05],[31104,-0.03],[31126,-0.05],[31138,-0.08],[31149,0.0],[31172,0.02],[31200,0.03]];
const upBlue = [[28200,-0.6],[28203,0.5],[28210,0.48],[28227,0.47],[28239,0.45],[28248,0.25],[28261,0.2],[28272,0.3],[28284,0.3],[28295,0.28],[28301,0.2],[28306,-0.1],[28312,-0.35],[28318,-0.45],[28323,-0.5],[28326,-0.6],[28327,0.6],[28331,0.5],[28340,0.5],[28363,0.45],[28374,0.48],[28386,0.25],[28397,0.2],[28408,0.15],[28420,0.13],[28431,0.14],[28437,0.2],[28442,0.3],[28448,0.2],[28451,-0.6],[28539,-0.6],[28544,-0.1],[28556,-0.12],[28567,0.38],[28573,-0.1],[28578,-0.15],[28590,-0.1],[28601,-0.14],[28612,-0.1],[28624,-0.2],[28635,-0.3],[28641,-0.45],[28646,-0.6],[28660,-0.6],[28663,-0.45],[28669,-0.6],[28737,-0.6],[28743,-0.2],[28748,-0.22],[28760,-0.18],[28771,-0.25],[28782,-0.18],[28794,-0.2],[28805,-0.12],[28811,-0.6],[28816,-0.6],[28828,-0.45],[28839,-0.42],[28850,-0.4],[28862,-0.35],[28873,-0.1],[28879,0.17],[28884,0.15],[28896,0.1],[28907,0.08],[28918,0.05],[28929,0.0],[28952,-0.02],[28975,0.0],[28997,-0.05],[29003,-0.2],[29009,-0.15],[29020,-0.1],[29031,-0.05],[29043,-0.1],[29054,-0.35],[29060,-0.4],[29065,-0.3],[29077,-0.35],[29088,-0.25],[29099,-0.1],[29111,-0.08],[29122,-0.1],[29133,-0.14],[29145,-0.18],[29156,-0.2],[29167,-0.24],[29179,-0.27],[29190,-0.25],[29201,-0.22],[29213,-0.2],[29224,-0.18],[29247,-0.15],[29252,-0.33],[29258,-0.05],[29269,-0.03],[29292,-0.02],[29315,-0.03],[29337,0.0],[29349,-0.06],[29360,-0.05],[29383,-0.07],[29405,-0.08],[29428,-0.06],[29451,-0.04],[29467,0.03],[29473,-0.02],[29496,-0.04],[29518,-0.04],[29541,-0.05],[29563,-0.08],[29586,-0.06],[29609,-0.1],[29631,-0.13],[29654,-0.12],[29677,-0.08],[29688,0.08],[29711,0.05],[29733,0.08],[29745,0.07],[29756,0.08],[29779,0.06],[29796,0.0],[29801,-0.1],[29803,0.6],[29807,-0.1],[29812,-0.05],[29818,0.0],[29829,-0.05],[29841,-0.02],[29846,0.3],[29852,0.41],[29858,0.3],[29869,0.3],[29880,0.28],[29892,0.3],[29903,0.26],[29914,0.3],[29926,0.25],[29937,0.3],[29948,0.32],[29960,0.35],[29965,0.3],[29971,0.22],[29977,0.3],[29982,0.25],[29994,0.2],[30005,0.19],[30028,0.2],[30039,0.15],[30050,0.13],[30056,0.15],[30062,0.3],[30073,0.35],[30079,0.38],[30084,0.3],[30096,0.22],[30107,0.2],[30118,0.22],[30130,0.3],[30135,0.2],[30141,0.28],[30152,0.3],[30164,0.25],[30175,0.15],[30186,0.0],[30198,0.0],[30209,0.03],[30220,0.05],[30232,0.02],[30254,0.04],[30277,0.05],[30300,0.06],[30311,0.07],[30334,0.19],[30345,0.18],[30356,0.15],[30379,0.1],[30402,0.13],[30424,0.15],[30447,0.14],[30469,0.23],[30481,0.22],[30492,0.2],[30503,0.25],[30515,0.2],[30526,0.15],[30537,0.12],[30549,0.25],[30560,0.15],[30571,0.1],[30583,0.05],[30594,0.07],[30605,0.1],[30628,0.12],[30651,0.2],[30662,0.15],[30685,0.2],[30707,0.2],[30719,0.15],[30741,0.15],[30764,0.1],[30775,0.07],[30798,0.1],[30821,0.13],[30843,0.15],[30860,0.25],[30877,0.2],[30900,0.18],[30922,0.14],[30945,0.12],[30968,0.1],[30991,0.13],[31013,0.15],[31036,0.22],[31047,0.25],[31064,0.2],[31081,0.12],[31104,0.1],[31126,0.08],[31149,0.07],[31172,0.12],[31200,0.17]];

// ---- number of tracked satellites ----
const satCount = [[28200,15],[28210,14],[28220,13],[28240,12],[28260,13],[28280,12],[28300,14],[28320,15],[28380,16],[28400,14],[28440,13],[28460,14],[28480,12],[28500,13],[28520,14],[28540,13],[28560,16],[28580,15],[28600,14],[28640,13],[28660,14],[28680,13],[28700,12],[28720,13],[28740,14],[28760,12],[28780,13],[28800,12],[28820,14],[28840,15],[28860,14],[28880,13],[28900,12],[28920,15],[28940,13],[28980,12],[29000,13],[29020,12],[29040,11],[29060,12],[29080,13],[29100,12],[29120,14],[29140,12],[29160,11],[29200,13],[29240,12],[29260,13],[29280,12],[29300,14],[29320,12],[29340,13],[29360,14],[29420,15],[29440,16],[29450,17],[29460,16],[29480,14],[29500,13],[29520,15],[29540,12],[29560,13],[29580,14],[29600,12],[29640,13],[29660,11],[29680,12],[29700,14],[29720,12],[29740,11],[29760,10],[29780,12],[29800,13],[29820,11],[29840,13],[29860,12],[29880,10],[29900,11],[29920,15],[29940,16],[29960,14],[29980,15],[30000,13],[30020,11],[30040,12],[30060,14],[30080,13],[30100,10],[30120,11],[30140,12],[30160,13],[30180,12],[30200,14],[30220,12],[30240,11],[30260,12],[30280,13],[30300,11],[30320,13],[30340,14],[30360,12],[30380,11],[30420,13],[30440,15],[30460,16],[30480,14],[30500,13],[30520,14],[30540,12],[30560,13],[30580,11],[30600,13],[30620,12],[30660,11],[30680,13],[30700,14],[30720,13],[30740,14],[30760,13],[30780,12],[30800,13],[30820,14],[30840,12],[30860,13],[30880,12],[30900,13],[30940,14],[30960,13],[31040,14],[31060,15],[31080,13],[31140,14],[31160,13],[31200,14]];

// ---------------- drawing ----------------
const svg = d3.select("#chart");
const X0 = 92, X1 = 975;
const x = d3.scaleLinear().domain(timeDomain).range([X0, X1]);

const panels = [
  {title: "East (m)",  top: 107, bottom: 269, domain: [-0.5, 0.5], series: [eastRed, eastGreen, eastOrange, eastBlue]},
  {title: "North (m)", top: 272, bottom: 431, domain: [-0.5, 0.5], series: [northRed, northGreen, northOrange, northBlue]},
  {title: "Up (m)",    top: 436, bottom: 595, domain: [-0.5, 0.5], series: [upRed, upGreen, upOrange, upBlue]},
  {title: "Satellite Number", top: 600, bottom: 720, domain: [0, 35], series: [satCount], sat: true}
];

const defs = svg.append("defs");
const fmt = d3.format(".1f");

panels.forEach((p, i) => {
  const y = d3.scaleLinear().domain(p.domain).range([p.bottom, p.top]);
  const clipId = "clip" + i;
  defs.append("clipPath").attr("id", clipId)
    .append("rect").attr("x", X0).attr("y", p.top).attr("width", X1 - X0).attr("height", p.bottom - p.top);

  const g = svg.append("g");
  const plot = g.append("g").attr("clip-path", `url(#${clipId})`);

  if (p.sat) {
    const line = d3.line().x(d => x(d[0])).y(d => y(d[1])).curve(d3.curveStepAfter);
    plot.append("path").datum(p.series[0]).attr("d", line)
      .attr("fill", "none").attr("stroke", "#000").attr("stroke-width", 1.8);
  } else {
    const line = d3.line().x(d => x(d[0])).y(d => y(d[1]));
    p.series.forEach((s, k) => {
      plot.append("path").datum(s).attr("d", line)
        .attr("fill", "none").attr("stroke", seriesColors[k])
        .attr("stroke-width", 1.9).attr("stroke-linejoin", "round");
    });
  }

  // frame
  g.append("rect").attr("x", X0).attr("y", p.top).attr("width", X1 - X0).attr("height", p.bottom - p.top)
    .attr("fill", "none").attr("stroke", "#3c3c3c").attr("stroke-width", 1.6);

  // time ticks (inward, top and bottom)
  const tks = g.append("g").attr("stroke", "#3c3c3c").attr("stroke-width", 1);
  d3.range(timeDomain[0] + 100, timeDomain[1], 100).forEach(t => {
    const len = (t % 500 === 0) ? 6 : 3.5;
    const xx = x(t);
    tks.append("line").attr("x1", xx).attr("x2", xx).attr("y1", p.bottom).attr("y2", p.bottom - len);
    tks.append("line").attr("x1", xx).attr("x2", xx).attr("y1", p.top).attr("y2", p.top + len);
  });

  // value ticks (inward, left and right)
  const minorVals = p.sat ? d3.range(5, 35, 5) : d3.range(-4, 5).map(v => v / 10);
  minorVals.forEach(v => {
    const major = p.sat ? (v % 10 === 0) : (Math.round(v * 10) % 2 === 0);
    const len = major ? 6 : 3.5;
    const yy = y(v);
    tks.append("line").attr("x1", X0).attr("x2", X0 + len).attr("y1", yy).attr("y2", yy);
    tks.append("line").attr("x1", X1).attr("x2", X1 - len).attr("y1", yy).attr("y2", yy);
  });

  // value labels
  const labels = p.sat ? satTicks : enuTicks;
  g.selectAll("text.ytl").data(labels).join("text")
    .attr("class", "ytl")
    .attr("x", X0 - 6).attr("y", d => y(d)).attr("dy", "0.36em")
    .attr("text-anchor", "end").attr("font-size", 21).attr("fill", "#111")
    .text(d => p.sat ? d : fmt(d));

  // panel title
  g.append("text")
    .attr("transform", `translate(31,${(p.top + p.bottom) / 2}) rotate(-90)`)
    .attr("text-anchor", "middle").attr("dy", "0.36em")
    .attr("font-size", 22).attr("fill", "#111")
    .text(p.title);

  // time labels on the bottom panel only
  if (i === panels.length - 1) {
    g.selectAll("text.xtl").data(xTicks).join("text")
      .attr("class", "xtl")
      .attr("x", d => x(d)).attr("y", p.bottom + 25).attr("dy", "0.36em")
      .attr("text-anchor", "middle").attr("font-size", 21).attr("fill", "#111")
      .text(d => d);
    svg.append("text")
      .attr("x", (X0 + X1) / 2).attr("y", p.bottom + 62).attr("dy", "0.36em")
      .attr("text-anchor", "middle").attr("font-size", 22).attr("fill", "#111")
      .text("Seconds of day 2021-12-21");
  }
});

// legend
const legendRows = [19, 43.5, 68, 92.5];
const leg = svg.append("g");
seriesNames.forEach((name, k) => {
  const yy = legendRows[k];
  leg.append("line").attr("x1", 95).attr("x2", 108).attr("y1", yy).attr("y2", yy)
    .attr("stroke", seriesColors[k]).attr("stroke-width", 2);
  leg.append("text").attr("x", 122).attr("y", yy).attr("dy", "0.36em")
    .attr("font-size", 21).attr("fill", "#111").text(seriesStats[k]);
  const t = leg.append("text").attr("x", 295).attr("y", yy).attr("dy", "0.36em")
    .attr("font-size", 21).attr("fill", "#111");
  const parts = name.split("N0");
  if (parts.length === 2) {
    t.append("tspan").text(parts[0] + "N");
    t.append("tspan").attr("font-size", 13).attr("dy", 3.5).text("0");
    t.append("tspan").attr("dy", -3.5).text(parts[1]);
  } else {
    t.text(name);
  }
});
</script>
</body></html>
